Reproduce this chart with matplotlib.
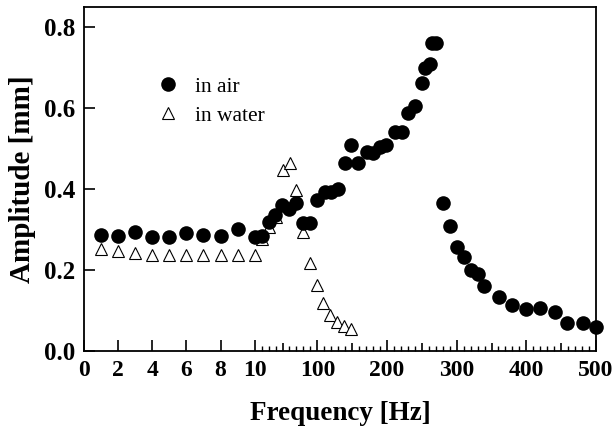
import numpy as np
import matplotlib
matplotlib.use("Agg")
import matplotlib.pyplot as plt
from matplotlib.ticker import FixedLocator

plt.rcParams['font.family'] = ['Liberation Serif', 'DejaVu Serif']

# measured amplitudes, 1-10 Hz then 10-500 Hz
air_freq = [1, 2, 3, 4, 5, 6, 7, 8, 9, 10,
            21, 30, 39, 49, 60, 70, 80, 89, 100,
            111, 120, 130, 140, 149, 159, 171, 180, 190, 199,
            211, 221, 230, 240, 250, 255, 261, 265, 270,
            280, 290, 300, 310, 321, 331, 339, 361, 379,
            400, 419, 441, 459, 481, 500]
air_amp = [0.286, 0.284, 0.294, 0.282, 0.282, 0.291, 0.287, 0.284, 0.300, 0.282,
           0.285, 0.319, 0.336, 0.361, 0.350, 0.366, 0.317, 0.317, 0.373,
           0.394, 0.394, 0.400, 0.464, 0.509, 0.464, 0.493, 0.489, 0.505, 0.509,
           0.542, 0.542, 0.588, 0.606, 0.662, 0.699, 0.710, 0.761, 0.761,
           0.366, 0.309, 0.256, 0.231, 0.200, 0.190, 0.160, 0.134, 0.113,
           0.102, 0.105, 0.097, 0.069, 0.068, 0.059]

water_freq = [1, 2, 3, 4, 5, 6, 7, 8, 9, 10,
              20, 31, 40, 50, 61, 70, 80, 89, 100,
              108, 118, 128, 138, 149]
water_amp = [0.252, 0.248, 0.242, 0.237, 0.237, 0.236, 0.236, 0.236, 0.236, 0.237,
             0.276, 0.305, 0.330, 0.448, 0.464, 0.399, 0.295, 0.216, 0.163,
             0.119, 0.088, 0.072, 0.061, 0.053]

major_ticks = [0, 2, 4, 6, 8, 10, 100, 200, 300, 400, 500]
half_ticks = [50, 150, 250, 350, 450]
y_ticks = [0.0, 0.2, 0.4, 0.6, 0.8]

# axis is linear 0-10, then squeezed linear 10-500 (10..500 takes twice the 0..10 width)
K = 24.5

def fwd(x):
    x = np.asarray(x, dtype=float)
    return np.where(x <= 10, x, 10 + (x - 10) / K)

def inv(u):
    u = np.asarray(u, dtype=float)
    return np.where(u <= 10, u, 10 + (u - 10) * K)

fig = plt.figure(figsize=(6.16, 4.34), dpi=100)
ax = fig.add_axes([84/616, 1 - 350.7/434, 512/616, 343.4/434])
ax.set_xscale('function', functions=(fwd, inv))

ax.plot(air_freq, air_amp, 'o', color='black', markersize=10.5,
        markeredgewidth=0, label='in air', clip_on=False, zorder=3)
ax.plot(water_freq, water_amp, '^', color='black', markerfacecolor='white',
        markersize=9.3, markeredgewidth=0.8, label='in water', zorder=2)

ax.set_xlim(0, 500)
ax.set_ylim(0, 0.85)

all_major = sorted(major_ticks + half_ticks)
ax.xaxis.set_major_locator(FixedLocator(all_major))
ax.set_xticklabels([str(t) if t in major_ticks else '' for t in all_major])
minor = [f for f in range(20, 500, 10) if f not in all_major]
ax.xaxis.set_minor_locator(FixedLocator(minor))
ax.set_yticks(y_ticks)
ax.set_yticklabels(['%.1f' % v for v in y_ticks])

ax.tick_params(which='both', direction='in', top=False, right=False)
ax.tick_params(which='major', length=8, width=1.2, pad=7)
ax.tick_params(axis='x', which='major', labelsize=17)
ax.tick_params(axis='y', which='major', labelsize=18, pad=6)
ax.tick_params(which='minor', length=3.5, width=1.0)
for lab in ax.get_xticklabels() + ax.get_yticklabels():
    lab.set_fontweight('bold')

# the 50 Hz marks are shorter than the labelled ones
for tick, loc in zip(ax.xaxis.get_major_ticks(), all_major):
    if loc in half_ticks:
        tick.tick1line.set_markersize(5.5)

for sp in ax.spines.values():
    sp.set_linewidth(1.3)

ax.set_xlabel('Frequency [Hz]', fontsize=19.5, fontweight='bold', labelpad=14)
ax.set_ylabel('Amplitude [mm]', fontsize=21, fontweight='bold', labelpad=6)

ax.legend(loc='upper left', bbox_to_anchor=(0.111, 0.829), frameon=False,
          fontsize=15.5, handletextpad=0.5, labelspacing=0.4, borderpad=0,
          handlelength=1.5)

fig.savefig('out.png', dpi=100)
